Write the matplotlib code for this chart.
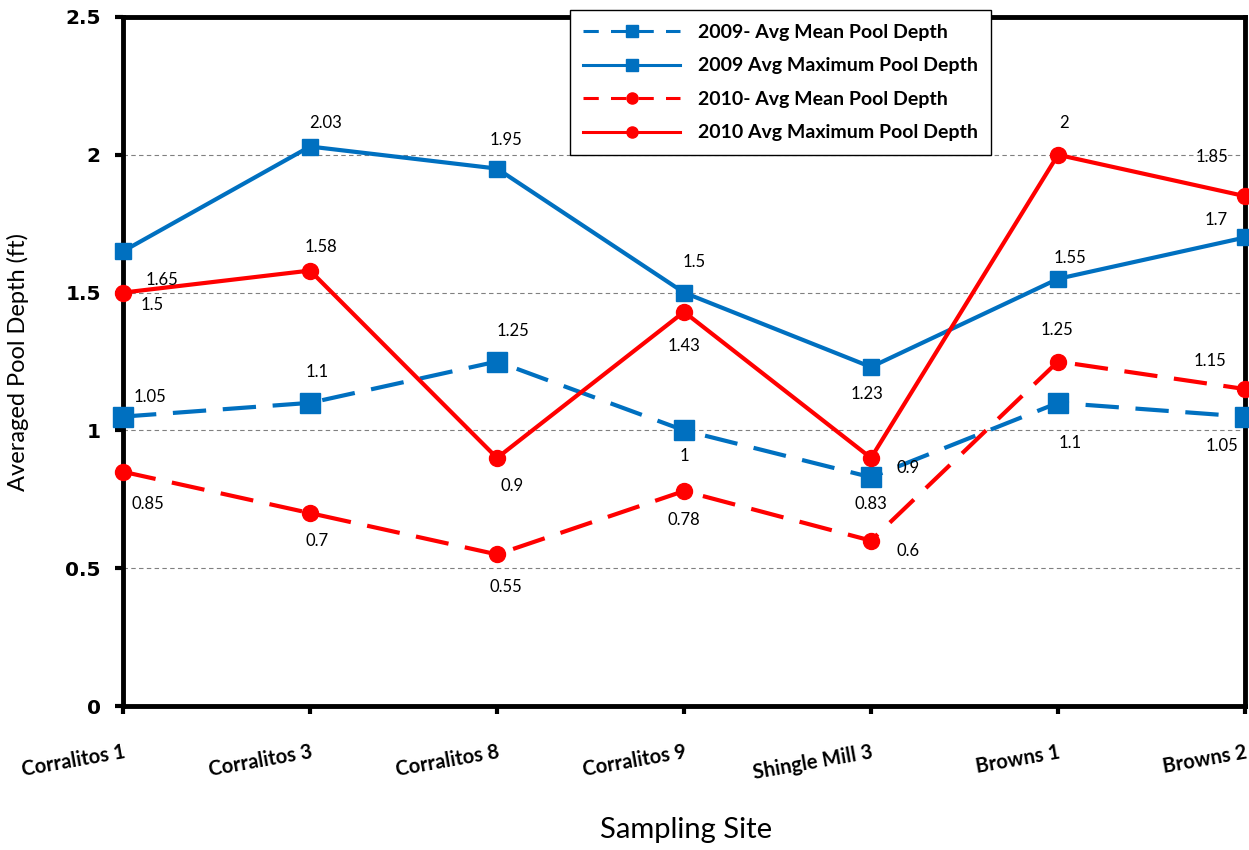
import matplotlib.pyplot as plt
from matplotlib.lines import Line2D

sites = ["Corralitos 1", "Corralitos 3", "Corralitos 8", "Corralitos 9",
         "Shingle Mill 3", "Browns 1", "Browns 2"]

mean_2009 = [1.05, 1.1, 1.25, 1.0, 0.83, 1.1, 1.05]
max_2009 = [1.65, 2.03, 1.95, 1.5, 1.23, 1.55, 1.7]
mean_2010 = [0.85, 0.7, 0.55, 0.78, 0.6, 1.25, 1.15]
max_2010 = [1.5, 1.58, 0.9, 1.43, 0.9, 2.0, 1.85]

# label offsets in pixels (dx, dy)
off_mean_2009 = [(27, 20), (7, 31), (16, 31), (0, -26), (0, -27), (12, -40), (-23, -29)]
off_max_2009 = [(39, -29), (16, 24), (9, 29), (10, 31), (-4, -27), (12, 21), (-29, 17)]
off_mean_2010 = [(25, -32), (7, -28), (9, -33), (0, -29), (37, -10), (-1, 32), (-35, 28)]
off_max_2010 = [(29, -12), (11, 24), (15, -28), (0, -34), (37, -10), (6, 32), (-33, 39)]

BLUE = "#0070C0"
RED = "#FF0000"
FONT = "Lato"
DASH = (0, (8, 4))

fig = plt.figure(figsize=(12.49, 8.5), dpi=100)
ax = fig.add_axes([0.0985, 0.1694, 0.8983, 0.8106])
x = list(range(len(sites)))

ax.plot(x, mean_2009, color=BLUE, lw=3, ls=DASH, marker="s", ms=14,
        zorder=3, clip_on=False)
ax.plot(x, max_2009, color=BLUE, lw=3, marker="s", ms=11.5,
        zorder=3, clip_on=False)
ax.plot(x, mean_2010, color=RED, lw=3, ls=DASH, marker="o", ms=11.5,
        zorder=3, clip_on=False)
ax.plot(x, max_2010, color=RED, lw=3, marker="o", ms=11.5,
        zorder=3, clip_on=False)

for vals, offs in [(mean_2009, off_mean_2009), (max_2009, off_max_2009),
                   (mean_2010, off_mean_2010), (max_2010, off_max_2010)]:
    for xi, v, (dx, dy) in zip(x, vals, offs):
        ax.annotate(f"{v:g}", (xi, v), xytext=(dx, dy), textcoords="offset pixels",
                    ha="center", va="center", fontsize=12, family=FONT,
                    zorder=4)

ax.set_xlim(0, 6)
ax.set_ylim(0, 2.5)
ax.set_yticks([0, 0.5, 1, 1.5, 2, 2.5])
ax.set_yticklabels(["0", "0.5", "1", "1.5", "2", "2.5"], fontsize=14.5,
                   fontweight="bold", family="DejaVu Sans")
ax.set_xticks(x)
ax.set_xticklabels(sites, rotation=10, ha="right", rotation_mode="anchor",
                   fontsize=14.5, fontweight="bold", family=FONT)
ax.tick_params(axis="both", direction="out", length=6, width=3)
ax.tick_params(axis="x", pad=20)
ax.tick_params(axis="y", pad=10)

for v in [0.5, 1, 1.5, 2]:
    ax.axhline(v, color="#808080", lw=0.8, ls=(0, (4, 3)), zorder=1)

for s in ax.spines.values():
    s.set_linewidth(3.5)

ax.set_ylabel("Averaged Pool Depth (ft)", fontsize=17, family=FONT, labelpad=26)
fig.text(0.549, 0.024, "Sampling Site", fontsize=21, family=FONT,
         ha="center", va="center")

handles = [
    Line2D([], [], color=BLUE, lw=2.2, ls=(0, (5, 4)), marker="s", ms=8),
    Line2D([], [], color=BLUE, lw=2.2, marker="s", ms=8),
    Line2D([], [], color=RED, lw=2.2, ls=(0, (5, 4)), marker="o", ms=8),
    Line2D([], [], color=RED, lw=2.2, marker="o", ms=8),
]
labels = ["2009- Avg Mean Pool Depth", "2009 Avg Maximum Pool Depth",
          "2010- Avg Mean Pool Depth", "2010 Avg Maximum Pool Depth"]
leg = fig.legend(handles, labels, loc="upper left", bbox_to_anchor=(0.456, 0.988),
                 prop={"family": FONT, "weight": "bold", "size": 14},
                 frameon=True, fancybox=False, edgecolor="black", framealpha=1,
                 handlelength=5, handletextpad=0.9, labelspacing=0.85,
                 borderpad=0.7, borderaxespad=0)
leg.get_frame().set_linewidth(1)

fig.savefig("out.png", dpi=100)
